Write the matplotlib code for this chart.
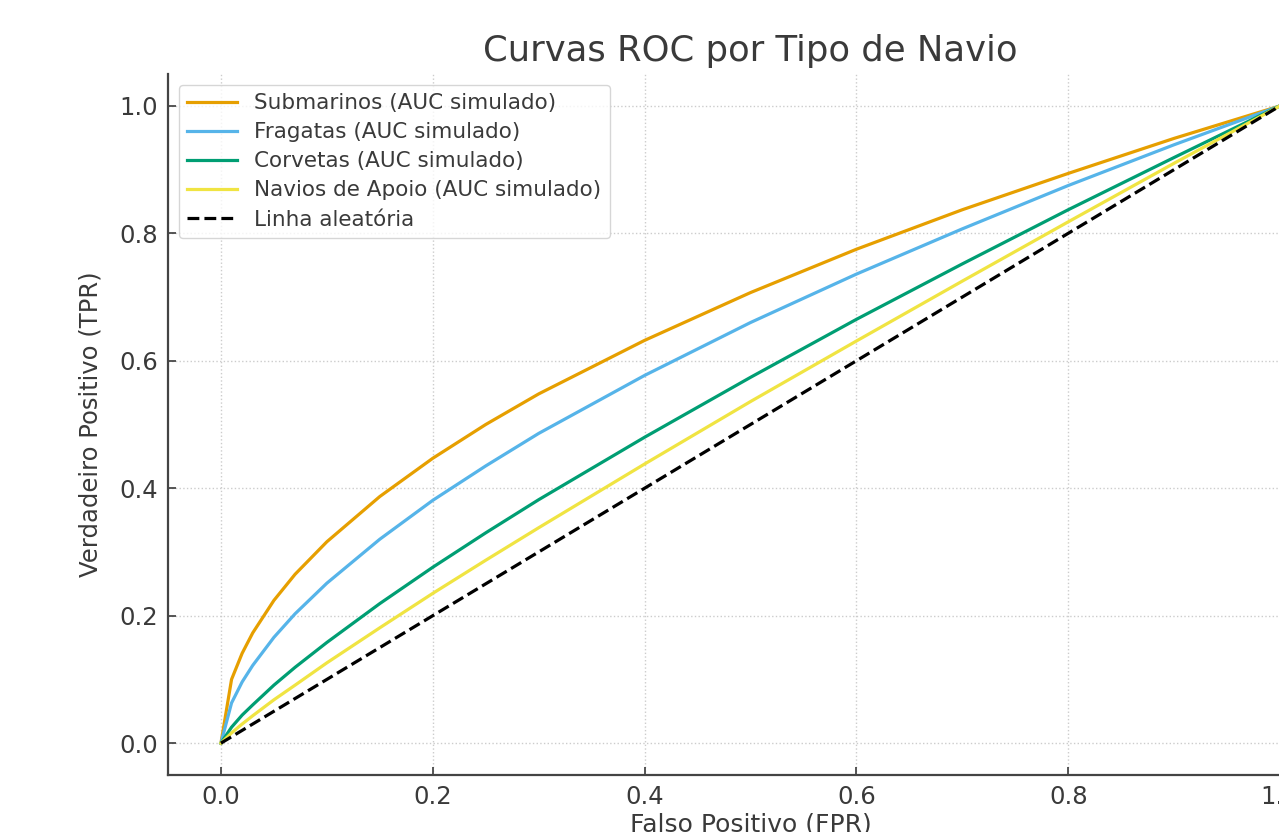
import matplotlib
matplotlib.use("Agg")
import matplotlib.pyplot as plt

fpr = [0.0, 0.01, 0.02, 0.03, 0.05, 0.07, 0.10, 0.15, 0.20, 0.25, 0.30,
       0.40, 0.50, 0.60, 0.70, 0.80, 0.90, 1.00]
tpr_submarinos = [0.0, 0.100, 0.141, 0.173, 0.224, 0.265, 0.316, 0.387, 0.447,
                  0.500, 0.548, 0.632, 0.707, 0.775, 0.837, 0.894, 0.949, 1.0]
tpr_fragatas = [0.0, 0.063, 0.096, 0.122, 0.166, 0.203, 0.251, 0.320, 0.381,
                0.435, 0.486, 0.577, 0.660, 0.736, 0.807, 0.875, 0.939, 1.0]
tpr_corvetas = [0.0, 0.025, 0.044, 0.060, 0.091, 0.119, 0.158, 0.219, 0.276,
                0.330, 0.382, 0.480, 0.574, 0.665, 0.752, 0.837, 0.919, 1.0]
tpr_apoio = [0.0, 0.016, 0.030, 0.043, 0.068, 0.091, 0.126, 0.181, 0.235,
             0.287, 0.338, 0.438, 0.536, 0.631, 0.725, 0.818, 0.910, 1.0]
random_line = [0.0, 1.0]

labels = ["Submarinos (AUC simulado)", "Fragatas (AUC simulado)",
          "Corvetas (AUC simulado)", "Navios de Apoio (AUC simulado)",
          "Linha aleatória"]
colors = ["#E69F00", "#56B4E9", "#009E73", "#F0E442"]

plt.rcParams['font.family'] = ['DejaVu Sans']
txt = "#3a3a3a"

fig = plt.figure(figsize=(12.79, 8.32), dpi=100)
ax = fig.add_axes([168/1279, 57/832, (1333-168)/1279, (775-74)/832])

for y, c, l in zip([tpr_submarinos, tpr_fragatas, tpr_corvetas, tpr_apoio], colors, labels[:4]):
    ax.plot(fpr, y, color=c, lw=2.3, label=l)
ax.plot(random_line, random_line, color="black", ls="--", lw=2.3, label=labels[4])

ax.set_xlim(-0.05, 1.05)
ax.set_ylim(-0.05, 1.05)
ax.set_xticks([0.0, 0.2, 0.4, 0.6, 0.8, 1.0])
ax.set_yticks([0.0, 0.2, 0.4, 0.6, 0.8, 1.0])
ax.grid(True, ls=":", color="#cccccc", lw=1)
for s in ["top", "right"]:
    ax.spines[s].set_visible(False)
for s in ["left", "bottom"]:
    ax.spines[s].set_color("#444444")
    ax.spines[s].set_linewidth(1.6)
ax.tick_params(labelsize=17.5, colors=txt, direction="in", length=6, width=1.2)
ax.tick_params(axis="y", pad=7)
ax.tick_params(axis="x", pad=7)
ax.set_xlabel("Falso Positivo (FPR)", fontsize=18, color=txt, labelpad=3)
ax.set_ylabel("Verdadeiro Positivo (TPR)", fontsize=17.5, color=txt, labelpad=12)
ax.set_title("Curvas ROC por Tipo de Navio", fontsize=25.5, color=txt, pad=9)
leg = ax.legend(loc="upper left", fontsize=15.5, frameon=True, labelspacing=0.42,
                handlelength=2.3, handletextpad=0.8, borderaxespad=0.5)
for t in leg.get_texts():
    t.set_color(txt)

fig.savefig("out.png", dpi=100)
